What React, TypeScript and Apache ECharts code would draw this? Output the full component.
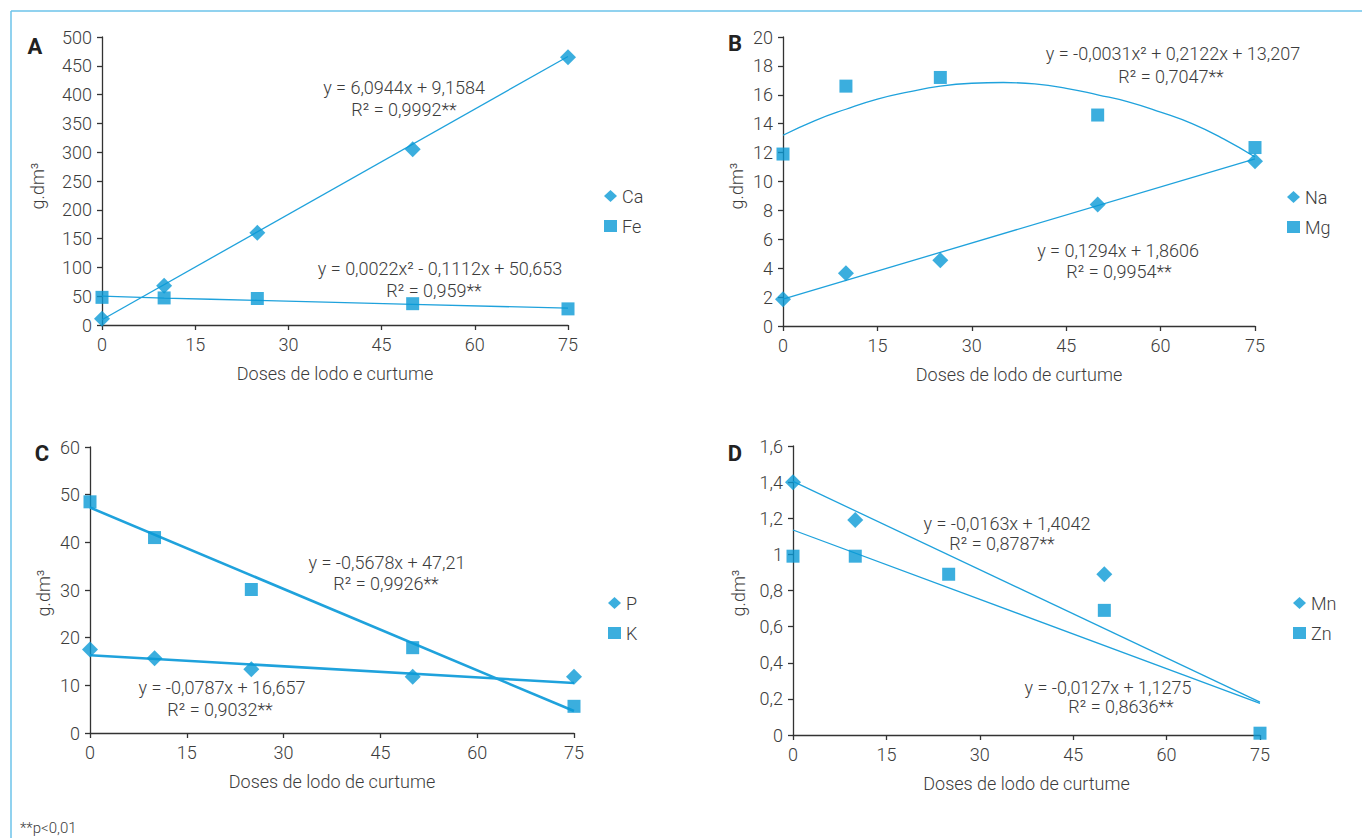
import React, { useEffect, useRef } from "react";
import * as echarts from "echarts";

// ---- Data ----
const DOSES = [0, 10, 25, 50, 75];
const TREND_X = [0, 75];

// Panel A
const CA = [11, 68, 160, 305, 465];
const FE = [48, 47, 46, 37, 28];
const CA_TREND = [9.16, 466.2];
const FE_TREND = [50.3, 46.8, 42.8, 35.8, 29.2];

// Panel B
const NA = [1.85, 3.65, 4.55, 8.4, 11.4];
const MG = [11.9, 16.6, 17.2, 14.6, 12.35];
const NA_TREND = [1.86, 11.57];
const MG_TREND_X = [0, 5, 10, 15, 20, 25, 30, 35, 40, 45, 50, 55, 60, 65, 70, 75];
const MG_TREND = [13.2, 14.2, 15.0, 15.7, 16.2, 16.6, 16.8, 16.85, 16.75, 16.45, 16.0, 15.5, 14.8, 14.0, 12.95, 11.7];

// Panel C
const P = [17.5, 15.7, 13.4, 11.8, 11.8];
const K = [48.5, 41.0, 30.1, 17.9, 5.6];
const P_TREND = [16.3, 10.5];
const K_TREND = [47.3, 4.6];

// Panel D
const MN = [1.4, 1.19, null, 0.89, null];
const ZN = [0.99, 0.99, 0.89, 0.69, 0.01];
const MN_TREND = [1.404, 0.182];
const ZN_TREND = [1.135, 0.175];

const X_TICKS = [0, 15, 30, 45, 60, 75];

const FONT = "Roboto, 'Noto Sans', sans-serif";
const TXT = "#3c3c3c";
const MARK = "#0a9ad6";
const LINE = "#1fa2dc";

const pair = (xs: number[], ys: (number | null)[]) =>
  xs.map((x, i) => [x, ys[i]]).filter((p) => p[1] !== null);

export default function App() {
  const ref = useRef<HTMLDivElement>(null);

  useEffect(() => {
    if (!ref.current) return;
    const chart = echarts.init(ref.current, undefined, { renderer: "svg" });

    const grids = [
      { left: 102, top: 37, width: 466, height: 288 },
      { left: 783, top: 37, width: 472, height: 289 },
      { left: 90, top: 447, width: 484, height: 286 },
      { left: 793, top: 446, width: 467, height: 289 },
    ];
    const xNames = [
      "Doses de lodo e curtume",
      "Doses de lodo de curtume",
      "Doses de lodo de curtume",
      "Doses de lodo de curtume",
    ];
    const yCfg = [
      { max: 500, interval: 50 },
      { max: 20, interval: 2 },
      { max: 60, interval: 10 },
      { max: 1.6, interval: 0.2 },
    ];

    const axisLine = { show: true, lineStyle: { color: "#333", width: 1.3 } };
    const axisTick = { show: true, length: 5, lineStyle: { color: "#333", width: 1.3 } };
    const labelStyle = { color: TXT, fontSize: 18, fontFamily: FONT, fontWeight: 300 };

    const xAxis = grids.map((_, i) => ({
      type: "value",
      gridIndex: i,
      min: 0,
      max: 75,
      interval: 15,
      axisLine,
      axisTick,
      splitLine: { show: false },
      axisLabel: { ...labelStyle, margin: 10, customValues: X_TICKS },
      name: xNames[i],
      nameLocation: "middle",
      nameGap: 39,
      nameTextStyle: { color: TXT, fontSize: 18, fontFamily: FONT, fontWeight: 300 },
    }));

    const yAxis = grids.map((_, i) => ({
      type: "value",
      gridIndex: i,
      min: 0,
      max: yCfg[i].max,
      interval: yCfg[i].interval,
      axisLine,
      axisTick,
      splitLine: { show: false },
      axisLabel: {
        ...labelStyle,
        margin: 10,
        formatter: (v: number) => String(Number(v.toFixed(2))).replace(".", ","),
      },
    }));

    const scatter = (name: string, symbol: string, data: any[], idx: number) => ({
      type: "scatter",
      name,
      xAxisIndex: idx,
      yAxisIndex: idx,
      symbol,
      symbolSize: symbol === "diamond" ? 16 : 13,
      itemStyle: { color: MARK },
      data,
      z: 5,
    });
    const trend = (data: any[], idx: number, width: number, smooth: boolean | number = false) => ({
      type: "line",
      xAxisIndex: idx,
      yAxisIndex: idx,
      showSymbol: false,
      symbol: "none",
      smooth,
      lineStyle: { color: LINE, width },
      data,
      z: 3,
      silent: true,
    });

    const series = [
      trend(pair(TREND_X, CA_TREND), 0, 1.3),
      trend(pair(DOSES, FE_TREND), 0, 1.3, true),
      scatter("Ca", "diamond", pair(DOSES, CA), 0),
      scatter("Fe", "rect", pair(DOSES, FE), 0),

      trend(pair(TREND_X, NA_TREND), 1, 1.3),
      trend(pair(MG_TREND_X, MG_TREND), 1, 1.3, 0.5),
      scatter("Na", "diamond", pair(DOSES, NA), 1),
      scatter("Mg", "rect", pair(DOSES, MG), 1),

      trend(pair(TREND_X, P_TREND), 2, 2.6),
      trend(pair(TREND_X, K_TREND), 2, 2.6),
      scatter("P", "diamond", pair(DOSES, P), 2),
      scatter("K", "rect", pair(DOSES, K), 2),

      trend(pair(TREND_X, MN_TREND), 3, 1.3),
      trend(pair(TREND_X, ZN_TREND), 3, 1.3),
      scatter("Mn", "diamond", pair(DOSES, MN), 3),
      scatter("Zn", "rect", pair(DOSES, ZN), 3),
    ];

    const legendPos = [
      { left: 604, top: 187, data: ["Ca", "Fe"] },
      { left: 1287, top: 188, data: ["Na", "Mg"] },
      { left: 608, top: 594, data: ["P", "K"] },
      { left: 1293, top: 594, data: ["Mn", "Zn"] },
    ];
    const legend = legendPos.map((l) => ({
      ...l,
      orient: "vertical",
      itemWidth: 13,
      itemHeight: 12,
      itemGap: 12,
      itemTextGap: 1,
      padding: 0,
      selectedMode: false,
      textStyle: { color: TXT, fontSize: 18, fontFamily: FONT, fontWeight: 300 },
    }));

    const eqText = (text: string, x: number, y: number) => ({
      type: "text",
      x,
      y,
      style: {
        text,
        fill: TXT,
        font: `300 18px ${FONT}`,
        textAlign: "center",
        textVerticalAlign: "middle",
      },
      z: 10,
    });
    const bold = (text: string, x: number, y: number) => ({
      type: "text",
      x,
      y,
      style: {
        text,
        fill: "#222",
        font: `bold 22px ${FONT}`,
        textAlign: "center",
        textVerticalAlign: "middle",
      },
    });
    const yLabel = (x: number, y: number) => ({
      type: "text",
      x,
      y,
      rotation: Math.PI / 2,
      style: {
        text: "g.dm³",
        fill: TXT,
        font: `300 18px ${FONT}`,
        textAlign: "center",
        textVerticalAlign: "middle",
      },
    });

    const graphic = [
      { type: "line", shape: { x1: 11, y1: 11, x2: 1362, y2: 11 }, style: { stroke: "#6cc3ea", lineWidth: 1.5 } },
      { type: "line", shape: { x1: 11, y1: 11, x2: 11, y2: 838 }, style: { stroke: "#6cc3ea", lineWidth: 1.5 } },
      bold("A", 35, 46),
      bold("B", 735, 43),
      bold("C", 42, 453),
      bold("D", 735, 453),
      yLabel(37, 186),
      yLabel(736, 186),
      yLabel(43, 593),
      yLabel(738, 593),
      eqText("y = 6,0944x + 9,1584", 404, 87),
      eqText("R² = 0,9992**", 404, 109),
      eqText("y = 0,0022x² - 0,1112x + 50,653", 440, 268),
      eqText("R² = 0,959**", 434, 290),
      eqText("y = -0,0031x² + 0,2122x + 13,207", 1173, 53),
      eqText("R² = 0,7047**", 1171, 76),
      eqText("y = 0,1294x + 1,8606", 1118, 250),
      eqText("R² = 0,9954**", 1119, 271),
      eqText("y = -0,5678x + 47,21", 387, 562),
      eqText("R² = 0,9926**", 386, 583),
      eqText("y = -0,0787x + 16,657", 222, 687),
      eqText("R² = 0,9032**", 220, 709),
      eqText("y = -0,0163x + 1,4042", 1007, 523),
      eqText("R² = 0,8787**", 1002, 543),
      eqText("y = -0,0127x + 1,1275", 1108, 687),
      eqText("R² = 0,8636**", 1121, 706),
      {
        type: "text",
        x: 20,
        y: 828,
        style: {
          text: "**p<0,01",
          fill: TXT,
          font: `300 15px ${FONT}`,
          textAlign: "left",
          textVerticalAlign: "middle",
        },
      },
    ];

    chart.setOption({
      animation: false,
      backgroundColor: "#ffffff",
      grid: grids,
      xAxis,
      yAxis,
      legend,
      series,
      graphic,
    });

    return () => chart.dispose();
  }, []);

  return (
    <div
      ref={ref}
      style={{ position: "fixed", left: 0, top: 0, width: 1362, height: 838, background: "#fff" }}
    />
  );
}
